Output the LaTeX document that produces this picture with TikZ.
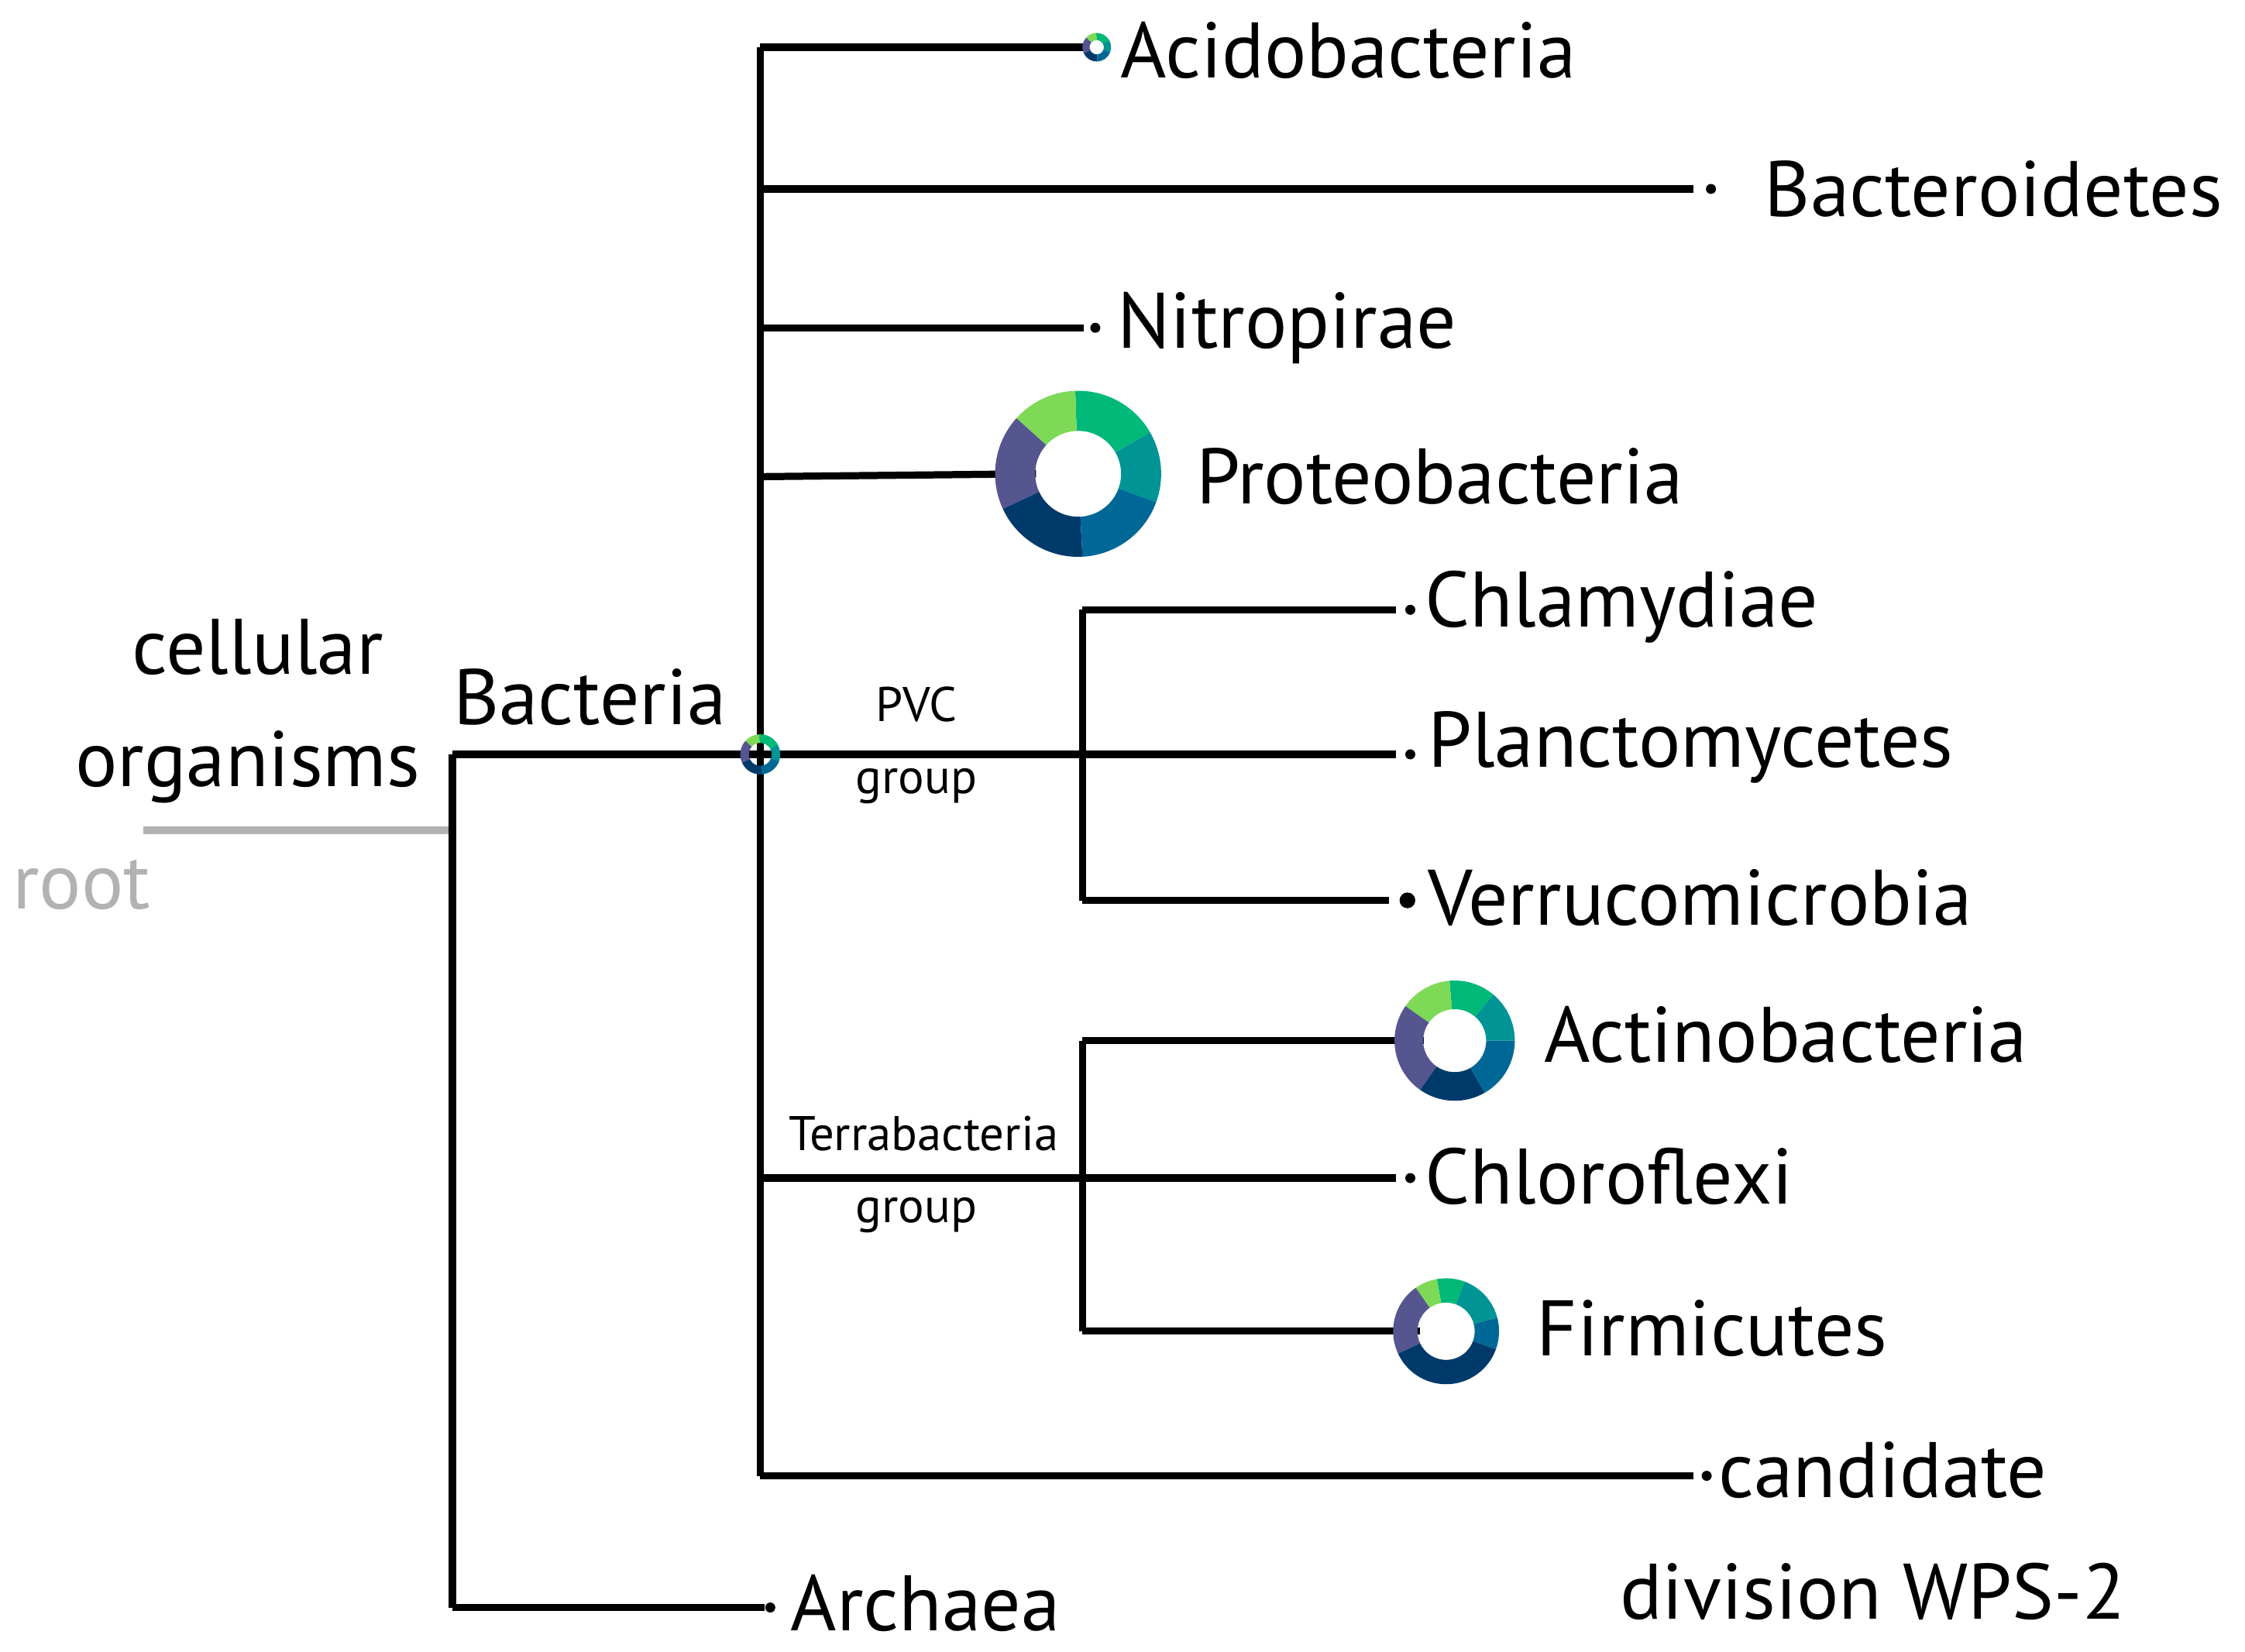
\documentclass[tikz,border=0pt]{standalone}
\usepackage{fontspec}
\setmainfont{PT Sans}
\definecolor{cLG}{HTML}{7ED957}
\definecolor{cG}{HTML}{00B878}
\definecolor{cT}{HTML}{009494}
\definecolor{cB}{HTML}{006896}
\definecolor{cN}{HTML}{003A6B}
\definecolor{cP}{HTML}{555590}
\newcommand{\mydonut}[5]{%
  \begin{scope}[shift={(#1,#2)},x=0.5pt,y=0.5pt]
  \foreach \a/\b/\c in #5{
    \fill[\c] (\a:#3) arc[start angle=\a,end angle=\b,radius=#3*0.5pt] -- (\b:#4) arc[start angle=\b,end angle=\a,radius=#4*0.5pt] -- cycle;}
  \end{scope}}
\def\std{-20/30/cT,30/92/cG,92/138/cLG,138/205/cP,205/273/cN,273/340/cB}
\def\actl{0/50/cT,50/95/cG,95/145/cLG,145/235/cP,235/300/cN,300/360/cB}
\def\firl{-20/15/cB,15/70/cT,70/100/cG,100/125/cLG,125/205/cP,205/340/cN}
\begin{document}
\begin{tikzpicture}[x=0.5pt,y=-0.5pt,
  br/.style={line width=2.5pt},
  big/.style={font=\fontsize{27.5}{30}\selectfont,inner sep=0pt},
  small/.style={font=\fontsize{17}{20}\selectfont,inner sep=0pt},
  dot/.style={circle,fill=black,inner sep=0pt,minimum size=3.5pt}]
\useasboundingbox (0,0) rectangle (1568,1154);
\coordinate (r0) at (100,580);
\coordinate (r1) at (316,580);
\coordinate (co) at (316,527);
\coordinate (ca) at (316,1123);
\coordinate (bac) at (531,527);
\coordinate (btop) at (531,33);
\coordinate (bbot) at (531,1031);
\draw[line width=2.5pt,gray!60] (r0) -- (r1);
\node[big,text=gray!60] (root) at (57,618) {root};
\node[big] (cell) at (180,452) {cellular};
\node[big] (org) at (173,536) {organisms};
\node[big] (bacteria) at (412,487) {Bacteria};
\draw[br] (co) -- (ca);
\draw[br] (co) -- (bac);
\node[dot] (darch) at (538,1123) {};
\node[big,anchor=west] (arch) at (552,1120) {Archaea};
\draw[br] (ca) -- (darch);
\draw[br] (btop) -- (bbot);
% Acidobacteria
\node[circle,inner sep=0pt,minimum size=9pt] (acid) at (766,33) {};
\draw[br] (btop) -- (acid.west);
\mydonut{766}{33}{10}{5}{\std}
\node[big,anchor=west] (acidt) at (782,35) {Acidobacteria};
% Bacteroidetes
\coordinate (b2) at (531,132);
\node[dot] (dbact) at (1195,132) {};
\draw[br] (b2) -- (1183,132);
\node[big,anchor=west] (bactt) at (1232,132) {Bacteroidetes};
% Nitropirae
\coordinate (b3) at (531,229);
\node[dot] (dnit) at (765,229) {};
\draw[br] (b3) -- (757,229);
\node[big,anchor=west] (nitt) at (780,229) {Nitropirae};
% Proteobacteria
\coordinate (b4) at (531,333);
\node[circle,inner sep=0pt,minimum size=29pt] (prot) at (753,331) {};
\draw[br] (b4) -- (prot.west);
\mydonut{753}{331}{58}{30}{\std}
\node[big,anchor=west] (prott) at (835,333) {Proteobacteria};
% PVC
\coordinate (pvct) at (756,426);
\coordinate (pvcb) at (756,629);
\draw[br] (bac) -- (975,527);
\draw[br] (pvct) -- (pvcb);
\draw[br] (pvct) -- (975,426);
\draw[br] (pvcb) -- (970,629);
\node[dot] (dchl) at (985,426) {};
\node[dot] (dpla) at (985,527) {};
\node[dot,minimum size=5.5pt] (dver) at (983,629) {};
\node[big,anchor=west] (chl) at (995,424) {Chlamydiae};
\node[big,anchor=west] (pla) at (997,522) {Planctomycetes};
\node[big,anchor=west] (ver) at (997,627) {Verrucomicrobia};
\node[small] (pvcl) at (640,492) {PVC};
\node[small] (pvcg) at (640,549) {group};
% Terrabacteria
\coordinate (t0) at (531,823);
\coordinate (tt) at (756,727);
\coordinate (tb) at (756,930);
\draw[br] (t0) -- (975,823);
\draw[br] (tt) -- (tb);
\node[circle,inner sep=0pt,minimum size=21pt] (act) at (1016,727) {};
\draw[br] (tt) -- (act.west);
\mydonut{1016}{727}{42}{22}{\actl}
\node[big,anchor=west] (actt) at (1078,723) {Actinobacteria};
\node[dot] (dchlo) at (985,823) {};
\node[big,anchor=west] (chlo) at (995,822) {Chloroflexi};
\node[circle,inner sep=0pt,minimum size=18pt] (fir) at (1010,930) {};
\draw[br] (tb) -- (fir.west);
\mydonut{1010}{930}{37}{20}{\firl}
\node[big,anchor=west] (firt) at (1073,928) {Firmicutes};
\node[small] (terl) at (645,792) {Terrabacteria};
\node[small] (terg) at (640,849) {group};
% candidate
\draw[br] (bbot) -- (1183,1031);
\node[dot] (dcand) at (1192,1031) {};
\node[big,anchor=west] (cand) at (1200,1027) {candidate};
\node[big] (wps) at (1308,1112) {division WPS-2};
% Bacteria node donut
\mydonut{531}{527}{14}{8}{\std}
\draw[line width=2pt] (525,527) -- (537,527) (531,521) -- (531,533);
\end{tikzpicture}
\end{document}
